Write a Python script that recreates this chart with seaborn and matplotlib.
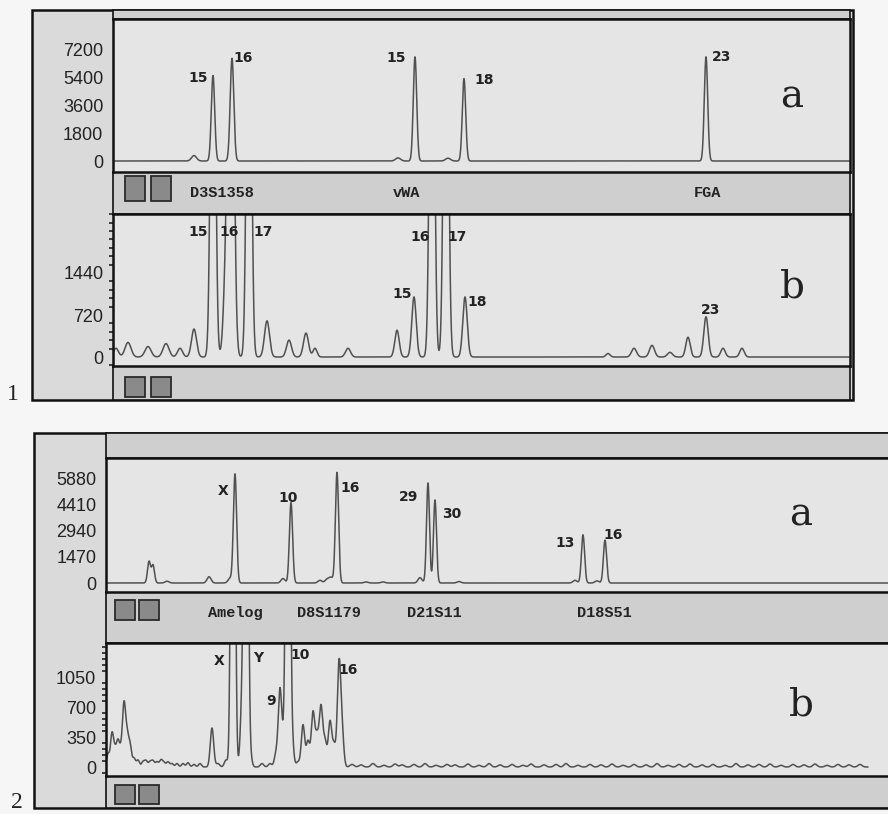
import numpy as np
import pandas as pd
import matplotlib.pyplot as plt
import matplotlib.ticker as mticker
from matplotlib.patches import Rectangle
import seaborn as sns

W, H = 888, 814

# ---- peak tables (position, height in RFU, width) ----
p1a_pos = [194, 213, 232, 398, 415, 448, 464, 706]
p1a_hgt = [350, 5500, 6600, 200, 6700, 180, 5300, 6700]
p1a_wid = [2.5, 1.7, 1.8, 2.5, 1.7, 2.5, 1.7, 1.7]

p1b_pos = [116, 128, 148, 166, 180, 194, 213, 226, 231, 249, 267, 289, 306, 315, 348,
           397, 414, 432, 446, 465, 608, 634, 652, 670, 688, 706, 723, 742]
p1b_hgt = [150, 250, 180, 230, 150, 480, 9000, 1300, 9000, 9000, 620, 290, 410, 150, 150,
           460, 1030, 9000, 9000, 1030, 60, 150, 200, 80, 340, 690, 150, 150]
p1b_wid = [2.5, 3, 3, 3, 2.5, 2.5, 2.2, 2.5, 2.6, 2.2, 2.5, 2.5, 2.5, 2, 2.5,
           2.2, 2.2, 2.2, 2.2, 2.2, 2, 2.5, 2.5, 2.5, 2.2, 2.2, 2.2, 2.2]

p2a_pos = [149, 153, 167, 209, 230, 235, 283, 291, 320, 327, 331, 337, 366, 383,
           420, 428, 435, 459, 575, 583, 597, 605]
p2a_hgt = [1200, 1000, 100, 350, 250, 6100, 250, 4500, 150, 200, 300, 6200, 60, 60,
           300, 5600, 4650, 80, 150, 2700, 120, 2400]
p2a_wid = [1.5, 1.5, 2, 2, 2, 1.6, 2, 1.6, 2, 2, 2, 1.6, 2, 2,
           2, 1.5, 1.5, 2, 2, 1.6, 2, 1.6]

p2b_pos = [108, 112, 115, 118, 121, 124, 127, 130, 134, 138, 143, 146, 150, 153, 157,
           161, 164, 168, 172, 177, 183, 188, 194, 200, 212, 218, 226, 233, 242, 246,
           250, 262, 270, 276, 280, 284, 288, 292, 298, 303, 308, 313, 317, 321, 325,
           330, 334, 339, 342, 352, 361, 373, 384, 395, 402, 414, 425, 436, 447, 455,
           468, 479, 489, 500, 512, 523, 531, 544, 556, 566, 578, 590, 601, 612, 623,
           634, 646, 657, 668, 679, 690, 702, 713, 725, 736, 748, 759, 770, 781, 793,
           804, 815, 827, 838, 849, 860]
p2b_hgt = [150, 380, 180, 280, 180, 700, 350, 250, 100, 80, 60, 70, 60, 70, 60,
           80, 50, 60, 40, 40, 40, 50, 30, 40, 455, 40, 80, 9000, 700, 9000,
           150, 40, 40, 150, 900, 300, 9000, 300, 60, 490, 300, 630, 350, 690, 300,
           525, 250, 1170, 400, 30, 25, 40, 20, 35, 25, 30, 40, 20, 30, 25,
           35, 20, 40, 25, 30, 20, 35, 25, 30, 40, 20, 30, 25, 35, 20,
           30, 25, 40, 20, 30, 35, 25, 30, 20, 40, 25, 30, 35, 20, 30,
           25, 35, 20, 30, 25, 30]
p2b_wid = [1.5] * 24 + [1.7] * 25 + [2.0] * 47

# allele labels (text, position, RFU level)
l1a_txt = ["15", "16", "15", "18", "23"]
l1a_x = [198, 243, 396, 484, 722]
l1a_y = [5340, 6620, 6620, 5210, 6690]

l1b_txt = ["15", "16", "17", "15", "16", "17", "18", "23"]
l1b_x = [198, 229, 263, 402, 420, 457, 477, 711]
l1b_y = [2140, 2140, 2140, 1080, 2060, 2060, 940, 805]

l2a_txt = ["X", "10", "16", "29", "30", "13", "16"]
l2a_x = [223, 288, 350, 409, 452, 565, 613]
l2a_y = [5150, 4760, 5320, 4820, 3860, 2240, 2690]

l2b_txt = ["X", "Y", "10", "9", "16"]
l2b_x = [219, 258, 300, 271, 348]
l2b_y = [1240, 1270, 1310, 770, 1130]

# locus names in the strips
loci1 = ["D3S1358", "vWA", "FGA"]
loci1_x = [190, 393, 694]
loci2 = ["Amelog", "D8S1179", "D21S11", "D18S51"]
loci2_x = [208, 297, 407, 577]

# y axis scales
t1a = [0, 1800, 3600, 5400, 7200]
t1b = [0, 720, 1440]
t2a = [0, 1470, 2940, 4410, 5880]
t2b = [0, 350, 700, 1050]

sns.set_theme(style="white")
plt.rcParams["font.family"] = ["DejaVu Sans"]

fig = plt.figure(figsize=(W / 100, H / 100), dpi=100)
fig.patch.set_facecolor("#f6f6f6")

FRAME = "#dadada"
PLOT = "#e5e5e5"
STRIP = "#cfcfcf"
INK = "#505050"


def rect(x0, y0, x1, y1):
    return [x0 / W, 1 - y1 / H, (x1 - x0) / W, (y1 - y0) / H]


def box(x0, y0, x1, y1, fc, lw=1.5, ec="#111111", z=0):
    r = Rectangle((x0 / W, 1 - y1 / H), (x1 - x0) / W, (y1 - y0) / H,
                  transform=fig.transFigure, facecolor=fc, edgecolor=ec,
                  linewidth=lw, zorder=z)
    fig.add_artist(r)


def ftext(x, y, s, **kw):
    fig.text(x / W, 1 - y / H, s, **kw)


# outer frames and strips
box(32, 10, 853, 400, FRAME, lw=1.8)
box(113, 10, 850, 19, STRIP, lw=1.2)
box(113, 172, 850, 214, STRIP, lw=1.2)
box(113, 366, 850, 400, STRIP, lw=1.2)

box(34, 433, 895, 808, FRAME, lw=1.8)
box(106, 433, 895, 458, STRIP, lw=1.2)
box(106, 592, 895, 643, STRIP, lw=1.2)
box(106, 776, 895, 808, STRIP, lw=1.2)

panels = [
    dict(r=(113, 19, 850, 172), pos=p1a_pos, hgt=p1a_hgt, wid=p1a_wid,
         xr=(113, 850), ylim=(-707, 9130), ticks=t1a, minor=None,
         lt=l1a_txt, lx=l1a_x, ly=l1a_y),
    dict(r=(113, 214, 850, 366), pos=p1b_pos, hgt=p1b_hgt, wid=p1b_wid,
         xr=(113, 850), ylim=(-154, 2451), ticks=t1b, minor=144,
         lt=l1b_txt, lx=l1b_x, ly=l1b_y),
    dict(r=(106, 458, 895, 592), pos=p2a_pos, hgt=p2a_hgt, wid=p2a_wid,
         xr=(106, 895), ylim=(-504, 7000), ticks=t2a, minor=None,
         lt=l2a_txt, lx=l2a_x, ly=l2a_y),
    dict(r=(106, 643, 895, 776), pos=p2b_pos, hgt=p2b_hgt, wid=p2b_wid,
         xr=(106, 868), ylim=(-105, 1447), ticks=t2b, minor=70,
         lt=l2b_txt, lx=l2b_x, ly=l2b_y),
]

for p in panels:
    x0, y0, x1, y1 = p["r"]
    ax = fig.add_axes(rect(x0, y0, x1, y1))
    ax.set_facecolor(PLOT)

    xs = np.linspace(p["xr"][0], p["xr"][1], 5000)
    ys = np.zeros_like(xs)
    for c, h, w in zip(p["pos"], p["hgt"], p["wid"]):
        ys += h * np.exp(-0.5 * ((xs - c) / w) ** 2)
    df = pd.DataFrame({"scan": xs, "rfu": ys})

    sns.lineplot(data=df, x="scan", y="rfu", ax=ax, color=INK,
                 linewidth=1.1, estimator=None)

    ax.set_xlim(x0, x1)
    ax.set_ylim(*p["ylim"])
    ax.set_xlabel("")
    ax.set_ylabel("")
    ax.set_xticks([])
    ax.set_yticks(p["ticks"])
    if p["minor"]:
        ax.yaxis.set_minor_locator(mticker.MultipleLocator(p["minor"]))
        ax.tick_params(axis="y", which="minor", length=3, width=1.2,
                       color="#222222", left=True)
    ax.tick_params(axis="y", which="major", length=5, width=1.2,
                   color="#222222", pad=2, labelsize=13, labelcolor="#222222")
    for lab in ax.get_yticklabels():
        lab.set_family("Liberation Sans")
    for sp in ax.spines.values():
        sp.set_visible(True)
        sp.set_color("#111111")
        sp.set_linewidth(1.8)

    for t, lx, ly in zip(p["lt"], p["lx"], p["ly"]):
        ax.text(lx, ly, t, ha="center", va="center", fontsize=10,
                fontweight="bold", color="#222222")

# locus names
for s, x in zip(loci1, loci1_x):
    ftext(x, 193, s, ha="left", va="center", family="Liberation Mono",
          fontsize=11, fontweight="bold", color="#222222")
for s, x in zip(loci2, loci2_x):
    ftext(x, 613, s, ha="left", va="center", family="Liberation Mono",
          fontsize=11, fontweight="bold", color="#222222")

# little grey buttons
for (bx0, bx1) in [(125, 145), (151, 171)]:
    for (by0, by1) in [(176, 201), (377, 397)]:
        box(bx0, by0, bx1, by1, "#8a8a8a", lw=1.3, ec="#2a2a2a", z=5)
for (bx0, bx1) in [(115, 135), (139, 159)]:
    for (by0, by1) in [(600, 620), (785, 804)]:
        box(bx0, by0, bx1, by1, "#8a8a8a", lw=1.3, ec="#2a2a2a", z=5)

# panel letters and figure numbers
for s, x, y in [("a", 792, 107), ("b", 792, 297), ("a", 801, 526), ("b", 801, 716)]:
    ftext(x, y, s, ha="center", va="baseline", family="DejaVu Serif",
          fontsize=28, color="#222222")
ftext(13, 400, "1", ha="center", va="baseline", family="Liberation Serif",
      fontsize=17, color="#222222")
ftext(17, 808, "2", ha="center", va="baseline", family="Liberation Serif",
      fontsize=17, color="#222222")

fig.savefig("out.png", dpi=100, facecolor=fig.get_facecolor())
plt.close(fig)
